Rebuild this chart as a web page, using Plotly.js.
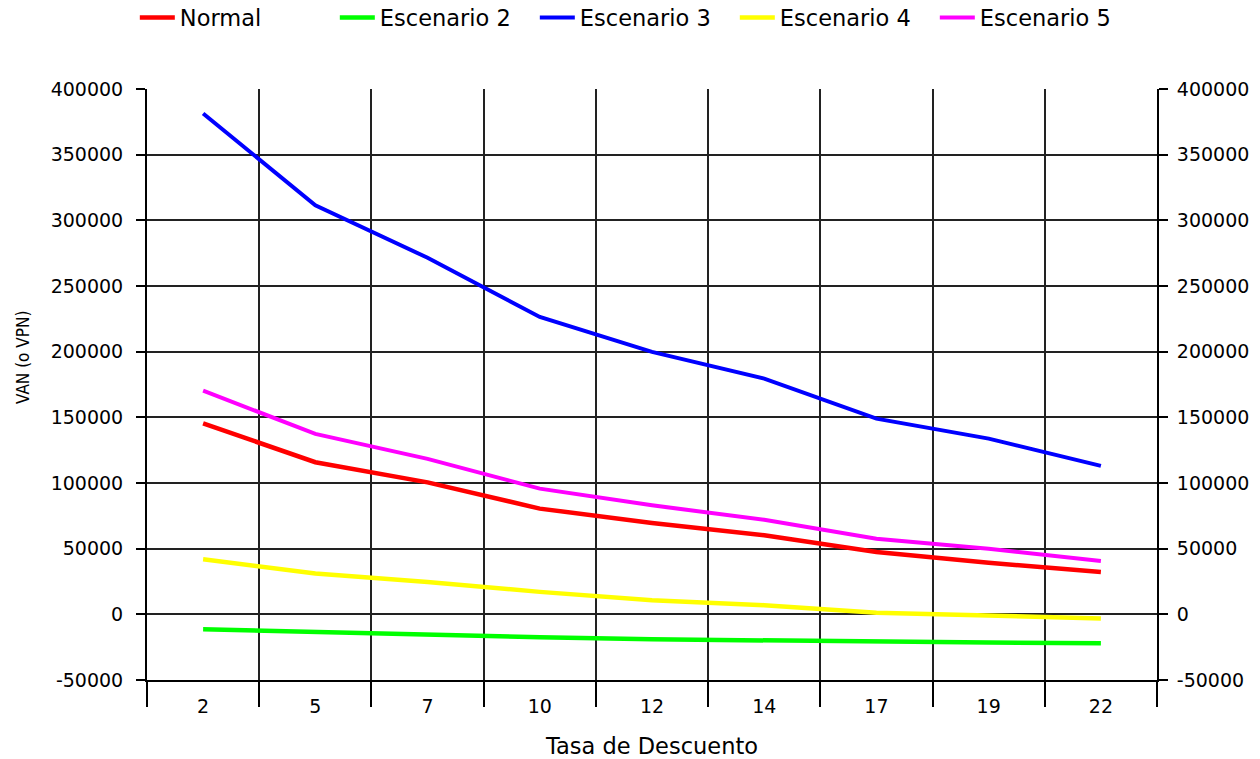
<!DOCTYPE html>
<html>
<head>
<meta charset="utf-8">
<script src="https://cdn.plot.ly/plotly-3.0.1.min.js"></script>
<style>
  html, body { margin: 0; padding: 0; background: #ffffff; }
  #chart { width: 1260px; height: 759px; }
</style>
</head>
<body>
<div id="chart"></div>
<script>
// Categories (discount rate, %)
const categories = ['2', '5', '7', '10', '12', '14', '17', '19', '22'];

// Series values (VAN / VPN)
const normal     = [145400, 115800, 100500, 80500, 69600, 60200, 47500, 39200, 32300];
const escenario2 = [-11400, -13700, -15800, -17500, -19000, -20000, -20800, -21500, -22000];
const escenario3 = [381300, 311500, 271500, 226400, 199800, 179500, 149000, 133800, 113000];
const escenario4 = [41900, 31100, 24700, 17100, 10800, 7000, 1200, -1300, -3100];
const escenario5 = [170300, 137400, 118400, 95700, 83000, 72000, 57500, 50000, 40600];

// Y tick labels
const yTickVals = [-50000, 0, 50000, 100000, 150000, 200000, 250000, 300000, 350000, 400000];
const yTickText = ['-50000', '0', '50000', '100000', '150000', '200000', '250000', '300000', '350000', '400000'];

const seriesNames = ['Normal', 'Escenario 2', 'Escenario 3', 'Escenario 4', 'Escenario 5'];
const seriesValues = [normal, escenario2, escenario3, escenario4, escenario5];
const seriesColors = ['#ff0000', '#00ff00', '#0000ff', '#ffff00', '#ff00ff'];
const seriesWidths = [4.5, 4.5, 4, 4.5, 4];

const traces = seriesNames.map((name, i) => ({
  type: 'scatter',
  mode: 'lines',
  name: name,
  x: categories,
  y: seriesValues[i],
  line: { color: seriesColors[i], width: seriesWidths[i] },
  hoverinfo: 'x+y+name'
}));

// invisible trace so the mirrored right-hand value axis is drawn
traces.push({
  type: 'scatter',
  mode: 'lines',
  x: categories,
  y: escenario3,
  yaxis: 'y2',
  line: { color: 'rgba(0,0,0,0)', width: 0 },
  showlegend: false,
  hoverinfo: 'skip'
});

const fam = 'DejaVu Sans, Verdana, sans-serif';
const axisFont = { family: fam, size: 19, color: '#000000' };

const layout = {
  width: 1260,
  height: 759,
  margin: { l: 147, r: 103, t: 89, b: 79, pad: 0 },
  paper_bgcolor: '#ffffff',
  plot_bgcolor: '#ffffff',
  font: axisFont,
  showlegend: true,
  legend: {
    orientation: 'h',
    xref: 'container', yref: 'container',
    x: 0.107, xanchor: 'left',
    y: 0.9763, yanchor: 'middle',
    font: { family: fam, size: 22.5, color: '#000000' },
    entrywidth: 150, entrywidthmode: 'pixels',
    itemwidth: 35,
    bgcolor: 'rgba(0,0,0,0)',
    borderwidth: 0
  },
  xaxis: {
    type: 'category',
    range: [-0.5, 8.5],
    tickson: 'boundaries',
    ticks: 'outside', ticklen: 25, tickwidth: 2, tickcolor: '#000000',
    showgrid: true, gridcolor: '#222222', gridwidth: 2,
    showline: true, linecolor: '#000000', linewidth: 2,
    zeroline: false,
    tickfont: axisFont,
    ticklabelstandoff: 8,
    title: { text: 'Tasa de Descuento', font: { family: fam, size: 22.5, color: '#000000' }, standoff: 24 },
    automargin: false
  },
  yaxis: {
    range: [-50000, 400000],
    tickmode: 'array', tickvals: yTickVals, ticktext: yTickText,
    ticks: 'outside', ticklen: 9, tickwidth: 2, tickcolor: '#000000',
    showgrid: true, gridcolor: '#222222', gridwidth: 2,
    showline: true, linecolor: '#000000', linewidth: 2,
    zeroline: false,
    tickfont: axisFont,
    ticklabelstandoff: 9,
    automargin: false
  },
  yaxis2: {
    overlaying: 'y', side: 'right',
    range: [-50000, 400000],
    tickmode: 'array', tickvals: yTickVals, ticktext: yTickText,
    ticks: 'outside', ticklen: 9, tickwidth: 2, tickcolor: '#000000',
    showgrid: false,
    showline: true, linecolor: '#000000', linewidth: 2,
    zeroline: false,
    tickfont: axisFont,
    ticklabelstandoff: 5,
    automargin: false
  },
  annotations: [{
    text: 'VAN (o VPN)',
    textangle: -90,
    xref: 'paper', yref: 'paper',
    x: -0.1228, y: 0.5465,
    xanchor: 'center', yanchor: 'middle',
    showarrow: false,
    font: { family: 'DejaVu Sans Condensed, DejaVu Sans, sans-serif', size: 17, color: '#000000' }
  }]
};

Plotly.newPlot('chart', traces, layout, { displayModeBar: false, staticPlot: true });
</script>
</body>
</html>
